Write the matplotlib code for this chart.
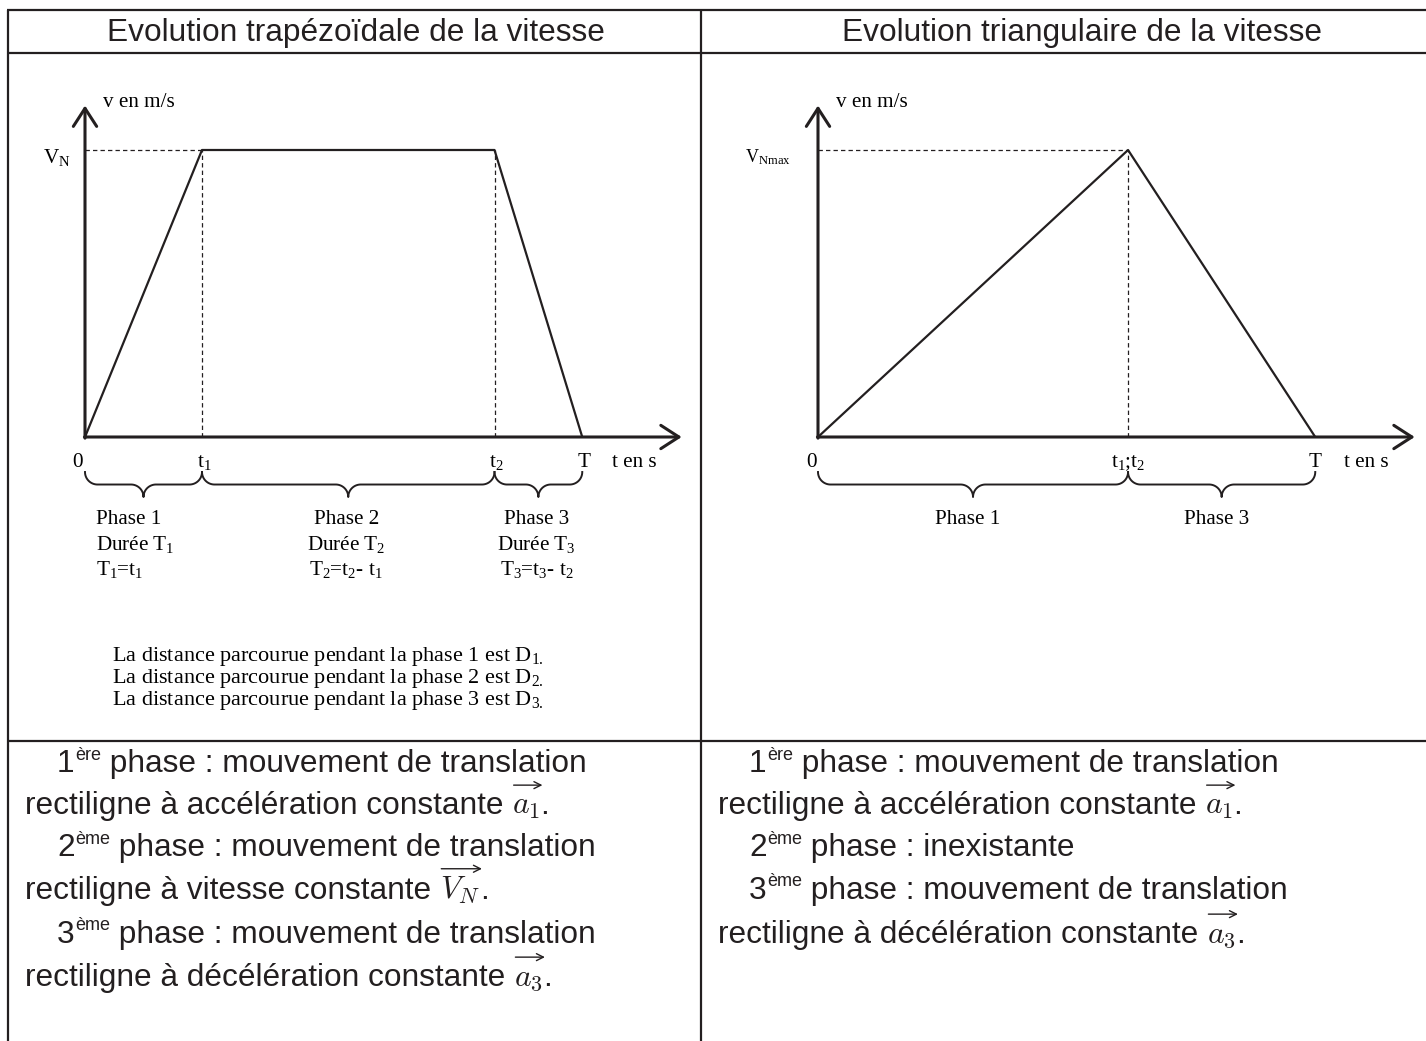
import numpy as np
import matplotlib.pyplot as plt
from matplotlib.text import OffsetFrom

plt.rcParams['mathtext.fontset'] = 'custom'
plt.rcParams['mathtext.rm'] = 'Liberation Serif'
plt.rcParams['mathtext.it'] = 'Liberation Serif:italic'
plt.rcParams['mathtext.bf'] = 'Liberation Serif:bold'

# --- data: trapezoidal profile (v normalised on V_N) ---
trap_time = [0, 1.2, 4.2, 5.1]
trap_speed = [0, 1, 1, 0]
trap_ticks = ['0', 't$_1$', 't$_2$', 'T']
trap_phases = [['Phase 1', 'Durée T$_1$', 'T$_1$=t$_1$'],
               ['Phase 2', 'Durée T$_2$', 'T$_2$=t$_2$- t$_1$'],
               ['Phase 3', 'Durée T$_3$', 'T$_3$=t$_3$- t$_2$']]
distances = ['La distance parcourue pendant la phase 1 est D$_{1.}$',
             'La distance parcourue pendant la phase 2 est D$_{2.}$',
             'La distance parcourue pendant la phase 3 est D$_{3.}$']

# --- data: triangular profile ---
tri_time = [0, 3.18, 5.1]
tri_speed = [0, 1, 0]
tri_ticks = ['0', 't$_1$;t$_2$', 'T']
tri_phases = ['Phase 1', 'Phase 3']

headers = ['Evolution trapézoïdale de la vitesse',
           'Evolution triangulaire de la vitesse']

# bottom descriptions: ('sup', number, exponent, rest) or ('vec', prefix, symbol, suffix)
left_lines = [('sup', '1', 'ère', ' phase : mouvement de translation'),
              ('vec', 'rectiligne à accélération constante ', '$a_1$', '.'),
              ('sup', '2', 'ème', ' phase : mouvement de translation'),
              ('vec', 'rectiligne à vitesse constante ', '$V_N$', '.'),
              ('sup', '3', 'ème', ' phase : mouvement de translation'),
              ('vec', 'rectiligne à décélération constante ', '$a_3$', '.')]
right_lines = [('sup', '1', 'ère', ' phase : mouvement de translation'),
               ('vec', 'rectiligne à accélération constante ', '$a_1$', '.'),
               ('sup', '2', 'ème', ' phase : inexistante'),
               ('sup', '3', 'ème', ' phase : mouvement de translation'),
               ('vec', 'rectiligne à décélération constante ', '$a_3$', '.')]

W, H = 1426, 1041
PX_X, PX_Y = 97.5, 287.0   # pixels per second / per V_N
XMAX, YMAX = 6.2, 1.2
INK = '#231f20'

fig = plt.figure(figsize=(W / 100, H / 100), dpi=100)
frame = fig.add_axes([0, 0, 1, 1])
frame.set_xlim(0, W)
frame.set_ylim(H, 0)
frame.axis('off')

# table grid
lk = dict(color=INK, lw=1.6, solid_capstyle='butt')
frame.plot([7, W], [10, 10], **lk)
frame.plot([7, W], [52.5, 52.5], **lk)
frame.plot([7, W], [741, 741], **lk)
frame.plot([8, 8], [10, H], **lk)
frame.plot([701, 701], [10, H], **lk)

sans = 'Liberation Sans'
serif = 'Liberation Serif'
FS = 22.8
LBL = 15.2
frame.text(356, 33, headers[0], fontsize=FS, family=sans, ha='center', va='center', color=INK)
frame.text(1082, 33, headers[1], fontsize=FS, family=sans, ha='center', va='center', color=INK)


def make_axes(ox, oy):
    ax = fig.add_axes([ox / W, (H - oy) / H, XMAX * PX_X / W, YMAX * PX_Y / H])
    ax.set_xlim(0, XMAX)
    ax.set_ylim(0, YMAX)
    ax.axis('off')
    arr = dict(arrowstyle='->,head_length=0.65,head_width=0.42', lw=2.2, color=INK,
               mutation_scale=20, shrinkA=0, shrinkB=0)
    ax.annotate('', xy=(0, 1.155), xytext=(0, -0.004), arrowprops=arr, annotation_clip=False)
    ax.annotate('', xy=(6.12, 0), xytext=(-0.006, 0), arrowprops=arr, annotation_clip=False)
    ax.text(0.185, 1.164, 'v en m/s', family=serif, fontsize=LBL, va='center', ha='left')
    ax.text(6.2 - 0.8, -0.09, 't en s', family=serif, fontsize=LBL, va='center', ha='left', clip_on=False)
    return ax


def brace(ax, x0, x1, ytop=-0.122, r=12.5):
    # curly brace, built in pixel offsets (y downward) then mapped to data units
    x0p, x1p = x0 * PX_X, x1 * PX_X
    xm = (x0p + x1p) / 2
    th = np.linspace(0, np.pi / 2, 25)
    px = np.concatenate([x0p + r + r * np.cos(np.pi - th),
                         xm - r + r * np.cos(-np.pi / 2 + th),
                         xm + r + r * np.cos(np.pi + th),
                         x1p - r + r * np.cos(np.pi / 2 - th)])
    py = np.concatenate([r * np.sin(np.pi - th),
                         2 * r + r * np.sin(-np.pi / 2 + th),
                         2 * r + r * np.sin(np.pi + th),
                         r * np.sin(np.pi / 2 - th)])
    ax.plot(px / PX_X, ytop - py / PX_Y, color=INK, lw=1.4, clip_on=False)


dash = dict(color=INK, lw=0.9, dashes=(3.5, 2.5))

# trapezoidal graph
ax1 = make_axes(85, 437)
ax1.plot(trap_time, trap_speed, color=INK, lw=1.6)
ax1.plot([0, trap_time[1]], [trap_speed[1], trap_speed[1]], **dash)
for t in trap_time[1:3]:
    ax1.plot([t, t], [0, trap_speed[1]], **dash)
ax1.text(-0.15, 0.975, 'V$_{\\mathrm{N}}$', family=serif, fontsize=LBL, ha='right', va='center')
for i, (t, lab) in enumerate(zip(trap_time, trap_ticks)):
    dx = -0.08 if i == 0 else 0.02
    ax1.text(t + dx, -0.09, lab, family=serif, fontsize=LBL, ha='center', va='center')
for i in range(3):
    brace(ax1, trap_time[i], trap_time[i + 1])
for i, lines in enumerate(trap_phases):
    for j, s in enumerate(lines):
        y = -0.289 - j * 0.087
        if i == 0:
            ax1.text(0.11, y, s, family=serif, fontsize=LBL, ha='left', va='center')
        else:
            xc = (trap_time[i] + trap_time[i + 1]) / 2
            ax1.text(xc - 0.02, y, s, family=serif, fontsize=LBL, ha='center', va='center')

for j, s in enumerate(distances):
    frame.text(112, 657 + 22 * j, s, family=serif, fontsize=16, ha='left', va='center')

# triangular graph
ax2 = make_axes(818, 437)
ax2.plot(tri_time, tri_speed, color=INK, lw=1.6)
ax2.plot([0, tri_time[1]], [tri_speed[1], tri_speed[1]], **dash)
ax2.plot([tri_time[1], tri_time[1]], [0, tri_speed[1]], **dash)
ax2.text(-0.28, 0.975, 'V$_{\\mathrm{Nmax}}$', family=serif, fontsize=13, ha='right', va='center')
for i, (t, lab) in enumerate(zip(tri_time, tri_ticks)):
    dx = -0.07 if i == 0 else 0.0
    ax2.text(t + dx, -0.09, lab, family=serif, fontsize=LBL, ha='center', va='center')
for i in range(2):
    brace(ax2, tri_time[i], tri_time[i + 1])
for i, s in enumerate(tri_phases):
    xc = (tri_time[i] + tri_time[i + 1]) / 2
    ax2.text(xc - 0.05, -0.289, s, family=serif, fontsize=LBL, ha='center', va='center')

baselines = [772, 814, 856, 899, 943, 986]


def write_lines(lines, x_in, x_out, ys):
    tk = dict(family=sans, fontsize=FS, color=INK, ha='left', va='baseline')
    for (kind, a, b, c), y in zip(lines, ys):
        if kind == 'vec':
            t0 = frame.text(x_out, y, a, **tk)
            t1 = frame.annotate(b, xy=(1, y), xycoords=(t0, 'data'), math_fontfamily='cm', **tk)
            frame.annotate(c, xy=(1, y), xycoords=(t1, 'data'), **tk)
            frame.annotate('', xy=(1.5, 4.5), xycoords=OffsetFrom(t1, (1, 1), unit='points'),
                           xytext=(1, 4.5), textcoords=OffsetFrom(t1, (0, 1), unit='points'),
                           arrowprops=dict(arrowstyle='->,head_length=0.5,head_width=0.25', lw=1.0,
                                           color=INK, shrinkA=0, shrinkB=0, mutation_scale=10))
        else:
            t0 = frame.text(x_in, y, a, **tk)
            t1 = frame.annotate(b, xy=(1, y), xycoords=(t0, 'data'), xytext=(0.5, 9),
                                textcoords='offset points', family=sans, fontsize=13, color=INK,
                                ha='left', va='baseline')
            frame.annotate(c, xy=(1, y), xycoords=(t1, 'data'), **tk)


write_lines(left_lines, 57, 25, baselines)
write_lines(right_lines, 749, 718, baselines)

plt.savefig('out.png', dpi=100)
